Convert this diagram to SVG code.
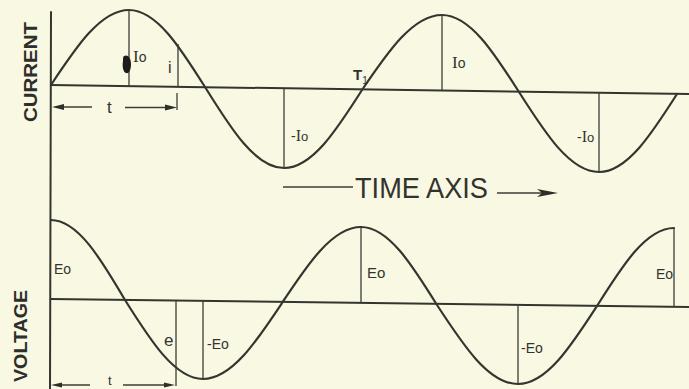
<svg xmlns="http://www.w3.org/2000/svg" width="689" height="389" viewBox="0 0 689 389">
<style>
.ax{stroke:#35352f;stroke-width:2;fill:none;stroke-linecap:round}
.wv{stroke:#35352f;stroke-width:2.2;fill:none;stroke-linecap:round;stroke-linejoin:round}
.th{stroke:#3c3c36;stroke-width:1.3;fill:none}
.ah{fill:#2e2e2a;stroke:none}
.lb{font-family:"Liberation Sans","DejaVu Sans",sans-serif;fill:#33332e}
.sf{font-family:"Liberation Serif","DejaVu Serif",serif}
.big{font-family:"Liberation Sans","DejaVu Sans",sans-serif;fill:#2e2e2a;font-weight:bold}
</style>
<rect width="689" height="389" fill="#f8f8e3"/>

<g id="axes">
  <path class="ax" d="M51,12 L50,389"/>
  <path class="ax" d="M51,85 L689,94"/>
  <path class="ax" d="M51,299 L689,307"/>
</g>

<g id="current-wave">
  <path class="wv" d="M51,85 C76.4,46.6 100.8,10 129,10 C156.5,10 180.2,47.6 205,87 C230.8,128.5 255.4,168 284,168 C312.2,168 336.6,129.9 362,90 C388.1,51.6 413,15 442,15 C469.9,15 493.9,52.6 519,92 C545.1,133 570,172 599,172 C627.2,172 651.6,133.9 677,94"/>
</g>

<g id="voltage-wave">
  <path class="wv" d="M51,220 C77.8,220 100.9,259 125,300 C150.4,340.4 174.8,379 203,379 C231.6,379 256.2,341.9 282,303 C307.8,264.1 332.4,227 361,227 C388.5,227 412.2,265.1 437,305 C463.4,345.4 488.7,384 518,384 C546.6,384 571.2,345.9 597,306 C622.1,266.1 646.1,228 674,228"/>
</g>

<g id="ordinates">
  <path class="th" d="M129,10 V86"/>
  <path class="th" d="M178,44 V87"/>
  <path class="th" d="M177,93 V110"/>
  <path class="th" d="M284,88 V168"/>
  <path class="th" d="M442,15 V91"/>
  <path class="th" d="M599,93 V172"/>
  <path class="th" d="M361,227 V303"/>
  <path class="th" d="M674,228 V306"/>
  <path class="th" d="M518,306 V384"/>
  <path class="th" d="M176,300 V386"/>
  <path class="th" d="M203,300 V379"/>
  <path d="M124,56 C128,54 131,58 131,64 C131,70 129,74 126,73 C123,72 122,66 123,61 C123,58 123,57 124,56 Z" fill="#1c1c1a"/>
</g>

<g id="connectors">
  <path class="th" d="M62,107 H92 M125,107.5 H168"/>
  <polygon class="ah" points="52,107 64,104 64,110"/>
  <polygon class="ah" points="177,107.5 165,104.5 165,110.5"/>
  <path class="th" d="M60,385 H90 M123,385 H166"/>
  <polygon class="ah" points="51,385 62,382.5 62,387.5"/>
  <polygon class="ah" points="175,385 164,382.5 164,387.5"/>
  <path class="th" d="M283,187 H353"/>
  <path class="th" d="M497,193 H542"/>
  <polygon class="ah" points="537,189 558,193 537,197 542,193"/>
</g>

<g id="labels">
  <text class="big" transform="translate(37,72) rotate(-90)" text-anchor="middle" font-size="18" textLength="100" lengthAdjust="spacingAndGlyphs">CURRENT</text>
  <text class="big" transform="translate(27,336) rotate(-90)" text-anchor="middle" font-size="19" textLength="92" lengthAdjust="spacingAndGlyphs">VOLTAGE</text>
  <text class="lb" x="355" y="198" font-size="30" textLength="133" lengthAdjust="spacingAndGlyphs">TIME AXIS</text>

  <text class="lb" x="133" y="62" font-size="14"><tspan class="sf" font-size="17">I</tspan><tspan font-size="14">o</tspan></text>
  <text class="lb" x="168" y="73" font-size="16">i</text>
  <text class="lb" x="107" y="113" font-size="17">t</text>
  <text class="lb" x="291" y="141" font-size="14"><tspan>-</tspan><tspan class="sf" font-size="16">I</tspan><tspan font-size="13">o</tspan></text>
  <text class="lb" x="353" y="80" font-weight="bold" font-size="15">T<tspan font-size="10" font-weight="normal" dy="4">1</tspan></text>
  <text class="lb" x="452" y="68" font-size="14"><tspan class="sf" font-size="17">I</tspan><tspan font-size="14">o</tspan></text>
  <text class="lb" x="577" y="142" font-size="14"><tspan>-</tspan><tspan class="sf" font-size="16">I</tspan><tspan font-size="13">o</tspan></text>

  <text class="lb" x="54" y="274" font-size="14">Eo</text>
  <text class="lb" x="367" y="278" font-size="15">Eo</text>
  <text class="lb" x="656" y="279" font-size="14">Eo</text>
  <text class="lb" x="521" y="353" font-size="14">-Eo</text>
  <text class="lb" x="207" y="349" font-size="14">-Eo</text>
  <text class="lb" x="164" y="346" font-size="17">e</text>
  <text class="lb" x="108" y="385" font-size="13">t</text>
</g>
</svg>
